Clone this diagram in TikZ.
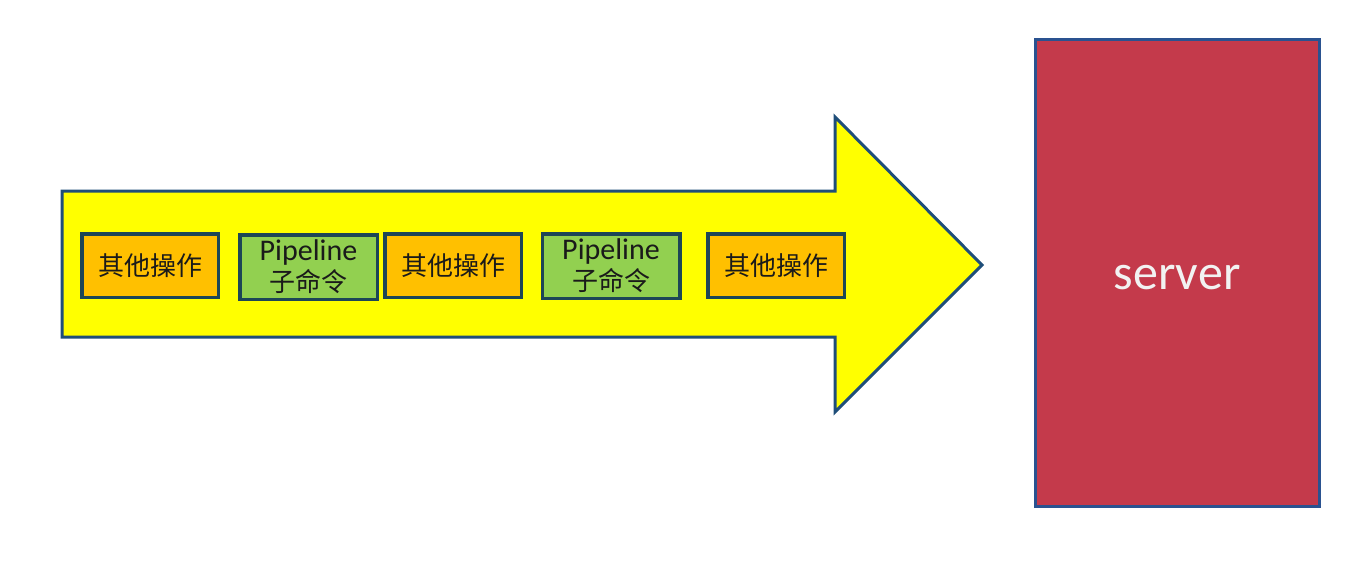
\documentclass[tikz,border=0pt]{standalone}
\usepackage{fontspec}
\setmainfont{Carlito}
\newfontfamily\cjk{Noto Sans CJK SC}
\definecolor{arrowyellow}{HTML}{FFFF00}
\definecolor{arrowedge}{HTML}{1F4E79}
\definecolor{boxedge}{HTML}{1D4656}
\definecolor{opfill}{HTML}{FFC000}
\definecolor{pipefill}{HTML}{92D050}
\definecolor{serverfill}{HTML}{C43A4B}
\definecolor{serveredge}{HTML}{2A5290}
\definecolor{txt}{HTML}{1A1A1A}
\tikzset{
  opbox/.style={draw=boxedge, line width=3.5pt, fill=opfill, minimum width=136.5pt, minimum height=63.5pt, inner sep=0pt, text=txt, font=\cjk\fontsize{26}{30}\selectfont},
  pipebox/.style={draw=boxedge, line width=3.5pt, fill=pipefill, minimum width=137.5pt, minimum height=64.5pt, inner sep=0pt, text=txt, align=center, font=\fontsize{30}{31}\selectfont},
  serverbox/.style={draw=serveredge, line width=3pt, fill=serverfill, minimum width=284pt, minimum height=467pt, inner sep=0pt, text=white!95!black, font=\fontsize{50}{54}\selectfont}
}
\begin{document}
\begin{tikzpicture}[x=1pt,y=-1pt]
\useasboundingbox (0,0) rectangle (1347,566);
\fill[white] (0,0) rectangle (1347,566);
% big arrow
\coordinate (a1) at (62,191);
\coordinate (a2) at (835,191);
\coordinate (a3) at (835,117);
\coordinate (tip) at (982,265);
\coordinate (a5) at (835,412);
\coordinate (a6) at (835,337);
\coordinate (a7) at (62,337);
\draw[draw=arrowedge, line width=3pt, fill=arrowyellow, line join=miter] (a1) -- (a2) -- (a3) -- (tip) -- (a5) -- (a6) -- (a7) -- cycle;
% boxes
\node[opbox] (b1) at (150,265.5) {其他操作};
\node[pipebox] (b2) at (308.5,267) {Pipeline\\{\cjk\fontsize{26}{30}\selectfont 子命令}};
\node[opbox] (b3) at (453,265.5) {其他操作};
\node[pipebox] (b4) at (611,266) {Pipeline\\{\cjk\fontsize{26}{30}\selectfont 子命令}};
\node[opbox] (b5) at (776,265.5) {其他操作};
% server
\node[serverbox] (server) at (1177,273) {\raisebox{-16pt}[0pt][0pt]{server}};
\end{tikzpicture}
\end{document}
